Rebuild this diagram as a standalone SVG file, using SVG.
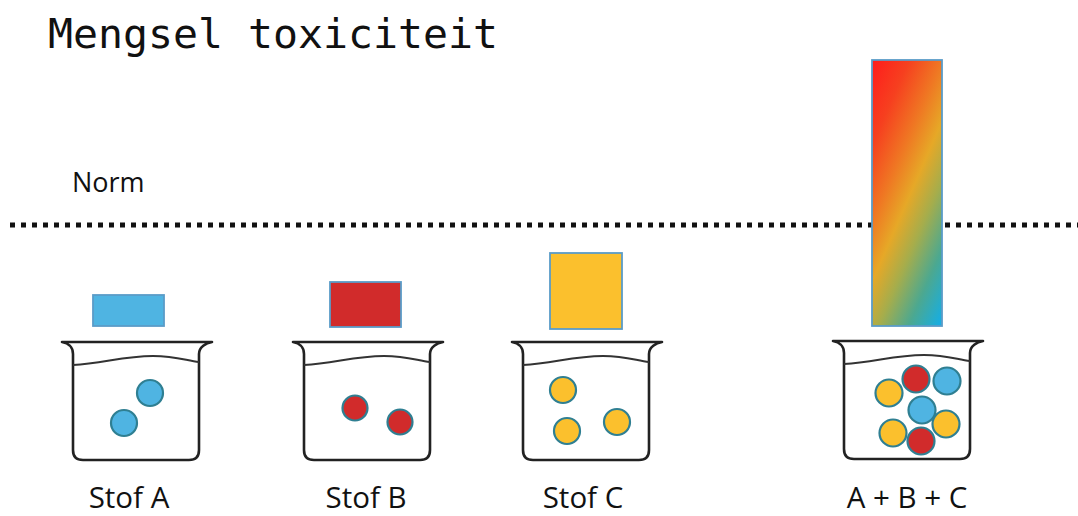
<svg xmlns="http://www.w3.org/2000/svg" width="1078" height="516" viewBox="0 0 1078 516">
<style>
.title{font-family:"DejaVu Sans Mono","Liberation Mono",monospace;font-size:41px;fill:#111}
.lbl{font-family:"Open Sans","Liberation Sans",sans-serif;font-size:29.5px;fill:#111;text-anchor:middle}
.norm{font-family:"Open Sans","Liberation Sans",sans-serif;font-size:27px;fill:#111}
.glass{fill:none;stroke:#222;stroke-width:2.6;stroke-linejoin:round;stroke-linecap:round}
.water{fill:none;stroke:#333;stroke-width:2}
.bar{stroke:#5a9cc8;stroke-width:1.8}
.dot{stroke:#2f7f92;stroke-width:2.2}
.a{fill:#4fb4e2}.b{fill:#d12b2b}.c{fill:#fbc02d}
</style>
<defs>
<linearGradient id="mix" gradientUnits="userSpaceOnUse" x1="829" y1="159" x2="985" y2="227">
<stop offset="0" stop-color="#ff1c1c"/>
<stop offset="0.2" stop-color="#f6401f"/>
<stop offset="0.38" stop-color="#ef7823"/>
<stop offset="0.52" stop-color="#e6a827"/>
<stop offset="0.66" stop-color="#a5ad4c"/>
<stop offset="0.82" stop-color="#4ca890"/>
<stop offset="1" stop-color="#12aeea"/>
</linearGradient>
<g id="beaker">
<path class="glass" d="M0,0 L150,0 M0,0 C6,1 11,5 11,12 L11,108 Q11,118 21,118 L127,118 Q137,118 137,108 L137,12 C137,5 144,1 150,0"/>
<path class="water" d="M11,23 C40,22 60,14 91,14 C115,14 125,19 137,20"/>
</g>
</defs>
<text class="title" x="48" y="48" textLength="450" lengthAdjust="spacingAndGlyphs">Mengsel toxiciteit</text>
<text class="norm" x="72" y="192">Norm</text>
<g id="norm-line">
<line x1="10" y1="225" x2="1078" y2="225" stroke="#111" stroke-width="5" stroke-dasharray="5 6"/>
</g>
<g id="stof-a">
<rect class="bar a" x="93" y="295" width="71" height="31"/>
<use href="#beaker" x="62" y="342"/>
<circle class="dot a" cx="150" cy="393" r="13"/>
<circle class="dot a" cx="124" cy="423" r="13"/>
<text class="lbl" x="129" y="508">Stof A</text>
</g>
<g id="stof-b">
<rect class="bar b" x="330" y="282" width="71" height="45"/>
<use href="#beaker" x="293" y="342"/>
<circle class="dot b" cx="355" cy="408" r="12.5"/>
<circle class="dot b" cx="400" cy="422" r="12.5"/>
<text class="lbl" x="366" y="508">Stof B</text>
</g>
<g id="stof-c">
<rect class="bar c" x="550" y="253" width="72" height="76"/>
<use href="#beaker" x="512" y="342"/>
<circle class="dot c" cx="563" cy="390" r="13"/>
<circle class="dot c" cx="567" cy="431" r="13"/>
<circle class="dot c" cx="617" cy="422" r="13"/>
<text class="lbl" x="583" y="508">Stof C</text>
</g>
<g id="mengsel">
<rect class="bar" fill="url(#mix)" x="872" y="60" width="70" height="266"/>
<use href="#beaker" x="833" y="341"/>
<circle class="dot c" cx="889" cy="393" r="13.5"/>
<circle class="dot b" cx="916" cy="379" r="13.5"/>
<circle class="dot a" cx="947" cy="381" r="13.5"/>
<circle class="dot a" cx="922" cy="410" r="13.5"/>
<circle class="dot c" cx="946" cy="424" r="13.5"/>
<circle class="dot c" cx="893" cy="433" r="13.5"/>
<circle class="dot b" cx="921" cy="441" r="13.5"/>
<text class="lbl" x="907" y="508">A + B + C</text>
</g>
</svg>
